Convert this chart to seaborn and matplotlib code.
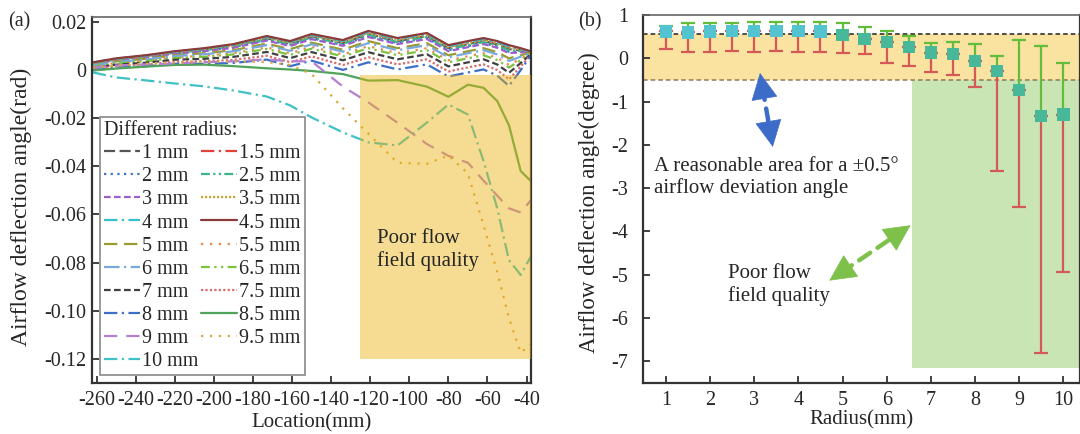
import numpy as np
import matplotlib
matplotlib.use("Agg")
import matplotlib.pyplot as plt
from matplotlib.patches import Rectangle
import seaborn as sns

# ==========================================
# Data - panel (a), values in 1e-3 rad
# ==========================================
x_loc = [-262, -250, -235, -220, -205, -190, -173, -161, -150, -134,
         -121, -106, -91, -80, -70, -62, -55, -49, -43, -38]

r1_0 = [2.75, 4.37, 5.57, 7.19, 8.32, 9.87, 13.04, 10.88, 13.76, 11.11, 14.83, 11.89, 13.99, 8.95, 10.63, 11.89, 10.50, 8.57, 8.07, 7.50]
r1_5 = [2.91, 4.56, 5.79, 7.44, 8.63, 10.25, 13.52, 11.39, 14.29, 11.71, 15.46, 12.52, 14.62, 9.58, 11.26, 12.52, 11.20, 9.39, 8.51, 7.60]
r2_0 = [2.54, 4.12, 5.27, 6.85, 7.90, 9.37, 12.41, 10.21, 13.04, 10.31, 13.99, 11.05, 13.15, 8.11, 9.79, 11.05, 9.58, 7.48, 7.48, 7.37]
r2_5 = [2.65, 4.25, 5.42, 7.02, 8.11, 9.62, 12.73, 10.55, 13.40, 10.71, 14.41, 11.47, 13.57, 8.53, 10.21, 11.47, 10.04, 8.03, 7.77, 7.44]
r3_0 = [2.44, 3.99, 5.13, 6.68, 7.69, 9.12, 12.10, 9.87, 12.69, 9.92, 13.57, 10.63, 12.73, 7.69, 9.37, 10.63, 9.12, 6.93, 7.19, 7.31]
r3_5 = [2.86, 4.50, 5.72, 7.35, 8.53, 10.13, 13.36, 11.22, 14.12, 11.51, 15.25, 12.31, 14.41, 9.37, 11.05, 12.31, 10.97, 9.12, 8.36, 7.56]
r4_0 = [2.97, 4.62, 5.86, 7.52, 8.74, 10.38, 13.68, 11.55, 14.47, 11.91, 15.67, 12.73, 14.83, 9.79, 11.47, 12.73, 11.43, 9.66, 8.66, 7.63]
r4_5 = [3.07, 4.75, 6.01, 7.69, 8.95, 10.63, 13.99, 11.89, 14.83, 12.31, 16.09, 13.15, 15.25, 10.21, 11.89, 13.15, 11.89, 10.21, 8.95, 7.69]
r5_0 = [2.02, 3.49, 4.54, 6.01, 6.85, 8.11, 10.84, 8.53, 11.26, 8.32, 11.89, 8.95, 11.05, 6.01, 7.69, 8.95, 7.27, 4.75, 6.01, 7.06]
r5_5 = [1.49, 2.86, 3.80, 5.17, 5.80, 6.85, 9.26, 6.85, 9.47, 6.32, 9.79, 6.85, 8.95, 3.91, 5.59, 6.85, 4.96, 2.02, 4.54, 6.74]
r6_0 = [1.81, 3.24, 4.25, 5.67, 6.43, 7.61, 10.21, 7.86, 10.55, 7.52, 11.05, 8.11, 10.21, 5.17, 6.85, 8.11, 6.35, 3.66, 5.42, 6.93]
r6_5 = [1.28, 2.61, 3.51, 4.83, 5.38, 6.35, 8.63, 6.18, 8.76, 5.53, 8.95, 6.01, 8.11, 3.07, 4.75, 6.01, 4.04, 0.93, 3.95, 6.62]
r7_0 = [0.86, 2.10, 2.92, 4.16, 4.54, 5.34, 7.37, 4.83, 7.33, 3.93, 7.27, 4.33, 6.43, 1.39, 3.07, 4.33, 2.19, -1.26, 2.78, 6.37]
r7_5 = [0.34, 1.47, 2.19, 3.32, 3.49, 4.08, 5.80, 3.15, 5.55, 1.94, 5.17, 2.23, 4.33, -0.71, 0.97, 2.23, -0.12, -3.99, 1.31, 6.05]
r8_0 = [-0.19, 0.84, 1.45, 2.48, 2.44, 2.82, 4.22, 1.47, 3.76, -0.06, 3.07, 0.13, 2.23, -2.81, -1.13, 0.13, -2.43, -6.72, -0.16, 5.74]
r8_5 = [-0.3, 0.5, 1.3, 2.0, 2.1, 1.5, 0.6, 0.1, -0.5, -1.8, -4.5, -4.3, -7.0, -11.2, -6.2, -7.5, -13.0, -23.0, -42.0, -46.0]
r9_0 = [0.97, 1.8, 2.2, 2.6, 3.1, 3.5, 4.3, 3.5, 3.5, -7.0, -13.5, -22.0, -30.8, -35.7, -38.6, -46.0, -52.2, -57.5, -59.2, -54.3]
r9_5 = [0.9, 1.7, 2.5, 3.0, 3.3, 3.5, 3.2, 2.0, -1.8, -16.0, -26.5, -38.6, -39.0, -35.5, -43.1, -64.5, -83.9, -103.0, -117.3, -114.0]
r10_0 = [-1.1, -3.2, -4.4, -5.7, -6.9, -8.6, -11.1, -14.8, -19.8, -26.0, -30.1, -31.4, -21.9, -14.4, -18.6, -37.9, -57.5, -79.0, -85.1, -77.7]

radius_labels = ["1 mm", "1.5 mm", "2 mm", "2.5 mm", "3 mm", "3.5 mm", "4 mm", "4.5 mm",
                 "5 mm", "5.5 mm", "6 mm", "6.5 mm", "7 mm", "7.5 mm", "8 mm", "8.5 mm",
                 "9 mm", "9.5 mm", "10 mm"]
curves = [r1_0, r1_5, r2_0, r2_5, r3_0, r3_5, r4_0, r4_5, r5_0, r5_5,
          r6_0, r6_5, r7_0, r7_5, r8_0, r8_5, r9_0, r9_5, r10_0]

line_colors = ["#555555", "#e3403a", "#3b73c4", "#3bb58e", "#9b5fc9", "#c9a33a",
               "#35c0cc", "#8b3b3b", "#9a9a2e", "#e8894c", "#79a9dc", "#7cc23c",
               "#404040", "#d96b6b", "#3d6fc8", "#4fa35a", "#b57fd1", "#d9a63a",
               "#3fc1c7"]
line_styles = [(0, (5, 2)), (0, (6, 2, 1, 2)), (0, (1, 2)), (0, (4, 1.5, 1, 1.5, 1, 1.5)),
               (0, (3, 1.5)), (0, (1, 0.8)), (0, (6, 2, 1, 2)), "-",
               (0, (6, 3)), (0, (1, 3)), (0, (7, 2, 1, 2)), (0, (4, 2, 1, 2, 1, 2)),
               (0, (3, 1.5)), (0, (1, 1)), (0, (6, 2, 1, 2)), "-",
               (0, (6, 4)), (0, (1, 3)), (0, (6, 2, 1, 2))]

# ==========================================
# Data - panel (b), degrees
# ==========================================
radius = [1, 1.5, 2, 2.5, 3, 3.5, 4, 4.5, 5, 5.5, 6, 6.5, 7, 7.5, 8, 8.5, 9, 9.5, 10]
mean_deg = [0.62, 0.60, 0.62, 0.63, 0.63, 0.63, 0.63, 0.62, 0.54, 0.44,
            0.37, 0.26, 0.13, 0.10, -0.06, -0.29, -0.73, -1.33, -1.30]
upper_deg = [0.75, 0.82, 0.81, 0.82, 0.84, 0.85, 0.85, 0.83, 0.81, 0.73,
             0.63, 0.52, 0.35, 0.38, 0.32, 0.05, 0.43, 0.29, -0.10]
lower_deg = [0.21, 0.15, 0.14, 0.17, 0.14, 0.17, 0.15, 0.14, 0.13, 0.09,
             -0.10, -0.18, -0.32, -0.38, -0.66, -2.60, -3.44, -6.82, -4.93]

# ==========================================
# Style
# ==========================================
sns.set_style("ticks")
plt.rcParams["font.family"] = ["Liberation Serif", "DejaVu Serif"]
plt.rcParams["axes.unicode_minus"] = False

fig = plt.figure(figsize=(10.8, 4.34), dpi=100)
ax1 = fig.add_axes([0.0849, 0.1182, 0.4068, 0.8433])
ax2 = fig.add_axes([0.5956, 0.1182, 0.4044, 0.8472])

for ax in (ax1, ax2):
    for s in ax.spines.values():
        s.set_color("#333333")
        s.set_linewidth(1.6)
    ax.spines["top"].set_color("#666666")
    ax.spines["top"].set_linewidth(1.2)
    ax.tick_params(direction="in", length=5, width=1.3, color="#333333",
                   labelsize=14.5, top=False, right=False)

# ==========================================
# Panel (a)
# ==========================================
handles = []
for lab, vals, col, ls in zip(radius_labels, curves, line_colors, line_styles):
    sns.lineplot(x=x_loc, y=np.array(vals) * 1e-3, ax=ax1, color=col,
                 linestyle=ls, lw=1.6, label=lab, legend=False)
    handles.append(ax1.lines[-1])

x_lo, x_hi = -262.6, -37.7
ax1.set_xlim(x_lo, x_hi)
ax1.set_ylim(-0.1298, 0.022)

ax1.add_patch(Rectangle((-125.3, -0.120), x_hi + 125.3, 0.118,
                        facecolor="#ebb30d", alpha=0.45, lw=0, zorder=3))
ax1.text(-116.8, -0.0747, "Poor flow\nfield quality", fontsize=15,
         va="center", ha="left", linespacing=1.2, zorder=6)

ax1.set_xticks(list(range(-260, -39, 20)))
ax1.set_xticklabels([str(v) for v in range(-260, -39, 20)])
yt = [0.02, 0, -0.02, -0.04, -0.06, -0.08, -0.10, -0.12]
ax1.set_yticks(yt)
ax1.set_yticklabels(["0.02", "0", "-0.02", "-0.04", "-0.06", "-0.08", "-0.10", "-0.12"])
ax1.tick_params(axis="x", pad=6)
ax1.tick_params(axis="y", pad=4)
ax1.set_xlabel("Location(mm)", fontsize=15, labelpad=2)
ax1.set_ylabel("Airflow deflection angle(rad)", fontsize=17)
ax1.yaxis.set_label_coords(-0.136, 0.48)

# legend: first column 1..10 mm, second column 1.5..9.5 mm
order = list(range(0, 19, 2)) + list(range(1, 19, 2))
leg = ax1.legend([handles[i] for i in order], [radius_labels[i] for i in order],
                 ncol=2, loc="upper left", bbox_to_anchor=(0.019, 0.726),
                 borderaxespad=0, fontsize=14.5, title="Different radius:",
                 title_fontsize=14.5, alignment="left", labelspacing=0.2,
                 handlelength=1.8, handletextpad=0.1, columnspacing=0.1,
                 borderpad=0.2, fancybox=False, framealpha=1,
                 edgecolor="#888888")
leg.get_frame().set_linewidth(1.2)
leg.set_zorder(5)

# ==========================================
# Panel (b)
# ==========================================
ax2.set_xlim(0.486, 10.377)
ax2.set_ylim(-7.5, 1.0)

ax2.axhspan(-0.5, 0.55, color="#fae2a0", lw=0, zorder=0)
ax2.add_patch(Rectangle((6.565, -7.17), 10.377 - 6.565, 7.17 - 0.5,
                        facecolor="#c9e5b4", lw=0, zorder=0))
ax2.axhline(0.55, color="#222222", ls=(0, (3, 2)), lw=1.1, zorder=1)
ax2.axhline(-0.5, color="#8c7b56", ls=(0, (3, 2)), lw=1.1, zorder=1)

mean = np.array(mean_deg)
up = np.array(upper_deg) - mean
low = mean - np.array(lower_deg)
ax2.errorbar(radius, mean, yerr=[np.zeros_like(up), up], fmt="none",
             ecolor="#62bd3a", elinewidth=1.6, capsize=5, capthick=1.6, zorder=2)
ax2.errorbar(radius, mean, yerr=[low, np.zeros_like(low)], fmt="none",
             ecolor="#d45a57", elinewidth=1.6, capsize=5, capthick=1.6, zorder=2)

rad = np.array(radius)
sns.scatterplot(x=rad[rad < 5], y=mean[rad < 5], ax=ax2, marker="s", s=80,
                color="#52c3cf", edgecolor="none", zorder=4)
sns.scatterplot(x=rad[rad >= 5], y=mean[rad >= 5], ax=ax2, marker="s", s=80,
                color="#47b99a", edgecolor="none", zorder=4)

ax2.set_xticks(list(range(1, 11)))
ax2.set_yticks(list(range(-7, 2)))
ax2.set_yticklabels([str(v) for v in range(-7, 2)])
ax2.tick_params(axis="x", pad=6)
ax2.tick_params(axis="y", pad=11)
ax2.set_xlabel("Radius(mm)", fontsize=15, labelpad=0)
ax2.set_ylabel("Airflow deflection angle(degree)", fontsize=16.5)
ax2.yaxis.set_label_coords(-0.099, 0.49)

ax2.text(0.728, -2.757, "A reasonable area for a \u00b10.5\u00b0\nairflow deviation angle",
         fontsize=15, va="center", ha="left", linespacing=1.2, zorder=6)
ax2.text(2.41, -5.24, "Poor flow\nfield quality", fontsize=15,
         va="center", ha="left", linespacing=1.2, zorder=6)


def dashed_double_arrow(ax, p1, p2, color):
    p1 = np.array(p1)
    p2 = np.array(p2)
    ax.annotate("", xy=p2, xytext=p1,
                arrowprops=dict(arrowstyle="-", color=color, lw=3.2,
                                linestyle=(0, (3, 2)), shrinkA=10, shrinkB=10),
                zorder=6)
    for tip, base in ((p1, p2), (p2, p1)):
        start = tip + 0.22 * (base - tip)
        ax.annotate("", xy=tip, xytext=start,
                    arrowprops=dict(arrowstyle="-|>,head_length=0.9,head_width=0.45",
                                    color=color, lw=0.5, mutation_scale=20,
                                    shrinkA=0, shrinkB=0),
                    zorder=6)


dashed_double_arrow(ax2, (3.13, -0.34), (3.42, -2.05), "#3d6cc8")
dashed_double_arrow(ax2, (4.70, -5.14), (6.54, -3.86), "#7dc04a")

fig.text(0.0074, 1 - 21.7 / 434, "(a)", fontsize=14.5, va="center", ha="left")
fig.text(0.535, 1 - 21.7 / 434, "(b)", fontsize=14.5, va="center", ha="left")

plt.savefig("out.png", dpi=100)
